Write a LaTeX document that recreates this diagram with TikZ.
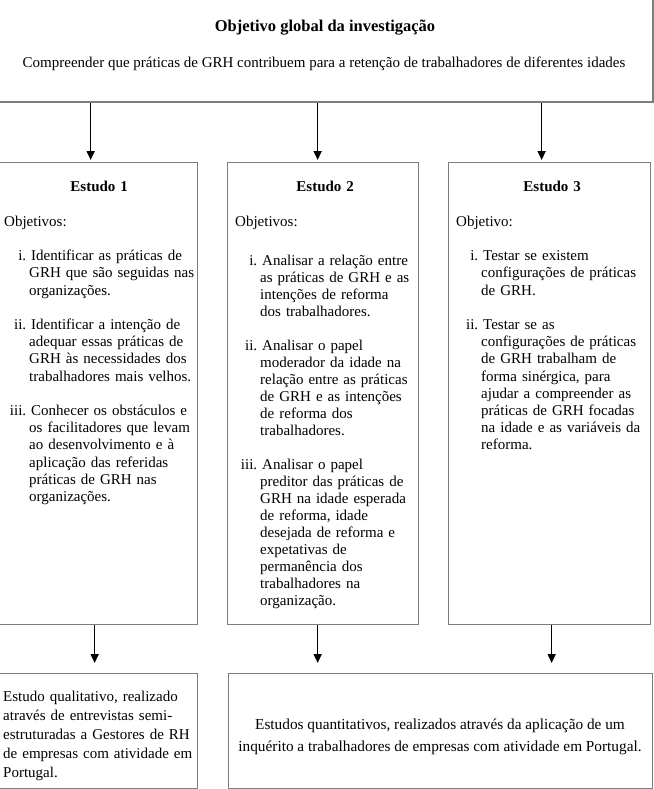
\documentclass[tikz,border=0pt]{standalone}
\usepackage{fontspec}
\setmainfont{Liberation Serif}
\usetikzlibrary{arrows.meta,positioning}

\definecolor{borda}{RGB}{125,125,125}
\newcommand{\objitem}[2]{\par\hangindent=25pt\hangafter=1\noindent\makebox[22pt][r]{#1}\ #2\par}
\newcommand{\espaco}[1][\baselineskip]{\par\vspace{#1}}

\tikzset{
  caixa/.style = {draw=borda, line width=1.3pt, anchor=north west, inner sep=0pt},
  texto/.style = {anchor=north west, inner sep=0pt, text width=#1, align=left},
  seta/.style  = {-{Triangle[length=9pt,width=8pt]}, line width=1.6pt},
}

\begin{document}
\begin{tikzpicture}[x=1pt,y=-1pt,font=\fontsize{15}{17.2}\selectfont]
    \useasboundingbox (0,0) rectangle (653,789);

    \node[caixa,line width=2pt,minimum width=657pt,minimum height=106pt] (global) at (-5,-5)  {};
    \node[caixa,minimum width=201pt,minimum height=462pt]                (est1)   at (-4,162)  {};
    \node[caixa,minimum width=191pt,minimum height=462pt]                (est2)   at (227,162) {};
    \node[caixa,minimum width=202pt,minimum height=462pt]                (est3)   at (448,162) {};
    \node[caixa,minimum width=201pt,minimum height=115pt]                (qual)   at (-4,673)  {};
    \node[caixa,minimum width=424pt,minimum height=115pt]                (quant)  at (228,673) {};

    \node (titulo) at (325,28) {\fontsize{16.5}{19}\selectfont\bfseries Objetivo global da investigação};
    \node (meta)   at (324,64) {Compreender que práticas de GRH contribuem para a retenção de trabalhadores de diferentes idades};

    \node[texto=190pt, below right=19pt and 8pt of est1.north west] (txt1) {%
        {\centering\bfseries Estudo 1\par}\espaco[17.5pt]
        Objetivos:\espaco
        \objitem{i.}{Identificar as práticas de\newline GRH que são seguidas nas\newline organizações.}\espaco
        \objitem{ii.}{Identificar a intenção de\newline adequar essas práticas de\newline GRH às necessidades dos\newline trabalhadores mais velhos.}\espaco
        \objitem{iii.}{Conhecer os obstáculos e\newline os facilitadores que levam\newline ao desenvolvimento e à\newline aplicação das referidas\newline práticas de GRH nas\newline organizações.}};
    \node[texto=180pt, font=\fontsize{15}{17}\selectfont, below right=19pt and 8pt of est2.north west] (txt2) {%
        {\centering\bfseries Estudo 2\par}\espaco[17.5pt]
        Objetivos:\espaco[22.5pt]
        \objitem{i.}{Analisar a relação entre\newline as práticas de GRH e as\newline intenções de reforma\newline dos trabalhadores.}\espaco
        \objitem{ii.}{Analisar o papel\newline moderador da idade na\newline relação entre as práticas\newline de GRH e as intenções\newline de reforma dos\newline trabalhadores.}\espaco
        \objitem{iii.}{Analisar o papel\newline preditor das práticas de\newline GRH na idade esperada\newline de reforma, idade\newline desejada de reforma e\newline expetativas de\newline permanência dos\newline trabalhadores na\newline organização.}};
    \node[texto=192pt, below right=19pt and 8pt of est3.north west] (txt3) {%
        {\centering\bfseries Estudo 3\par}\espaco[17.5pt]
        Objetivo:\espaco
        \objitem{i.}{Testar se existem\newline configurações de práticas\newline de GRH.}\espaco
        \objitem{ii.}{Testar se as\newline configurações de práticas\newline de GRH trabalham de\newline forma sinérgica, para\newline ajudar a compreender as\newline práticas de GRH focadas\newline na idade e as variáveis da\newline reforma.}};

    \node[texto=196pt, font=\fontsize{15}{19.2}\selectfont, below right=17.5pt and 7pt of qual.north west] (txtqual) {%
        Estudo qualitativo, realizado\newline através de entrevistas semi-\newline estruturadas a Gestores de RH\newline de empresas com atividade em\newline Portugal.};
    \node[align=center, inner sep=0pt, font=\fontsize{15.3}{21.7}\selectfont] (txtquant) at (440,736.5) {%
        Estudos quantitativos, realizados através da aplicação de um\\
        inquérito a trabalhadores de empresas com atividade em Portugal.};

    \draw[seta,shorten >=2pt]  ([xshift=-6.5pt]est1.north |- global.south) -- ([xshift=-6.5pt]est1.north);
    \draw[seta,shorten >=2pt]  ([xshift=-5.5pt]est2.north |- global.south) -- ([xshift=-5.5pt]est2.north);
    \draw[seta,shorten >=2pt]  ([xshift=-8pt]est3.north |- global.south)   -- ([xshift=-8pt]est3.north);
    \draw[seta,shorten >=10pt] ([xshift=-2.5pt]est1.south) -- ([xshift=-2.5pt]est1.south |- qual.north);
    \draw[seta,shorten >=10pt] ([xshift=-5.5pt]est2.south) -- ([xshift=-5.5pt]est2.south |- quant.north);
    \draw[seta,shorten >=10pt] ([xshift=2pt]est3.south)    -- ([xshift=2pt]est3.south |- quant.north);
\end{tikzpicture}
\end{document}
